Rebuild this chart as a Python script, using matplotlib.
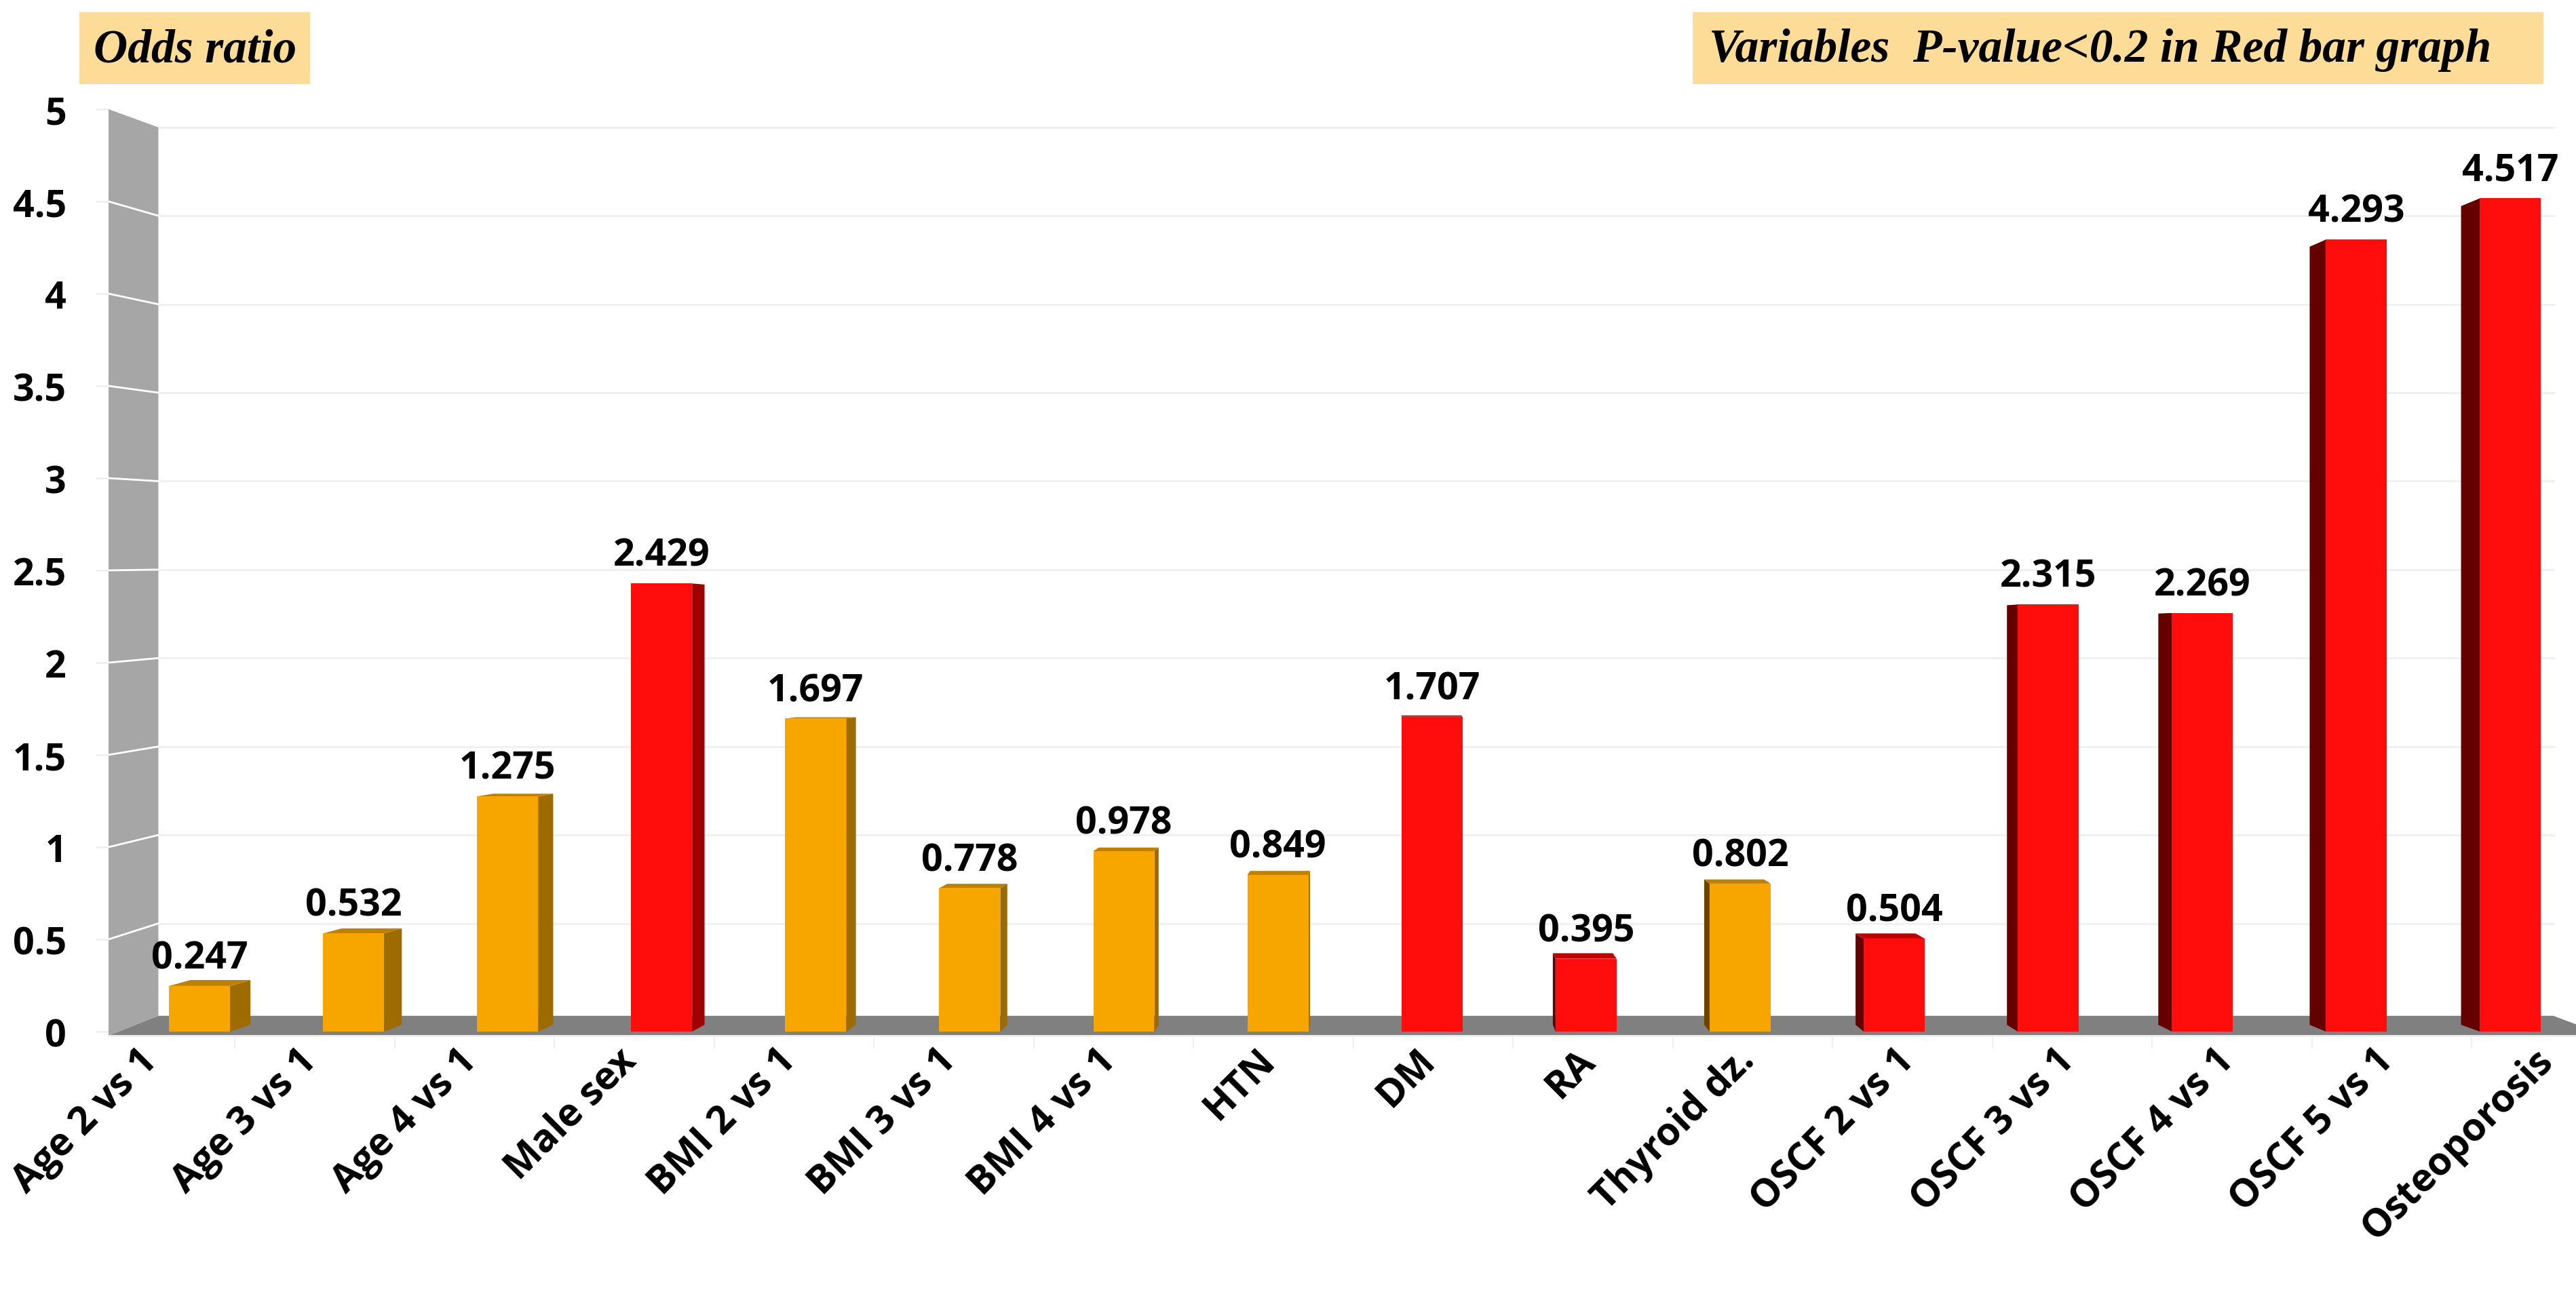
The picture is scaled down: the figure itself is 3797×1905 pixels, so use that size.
import matplotlib
matplotlib.use('Agg')
import matplotlib.pyplot as plt
import matplotlib.transforms as mtransforms
from matplotlib.patches import Polygon, Rectangle

# data
categories = ['Age 2 vs 1', 'Age 3 vs 1', 'Age 4 vs 1', 'Male sex', 'BMI 2 vs 1',
              'BMI 3 vs 1', 'BMI 4 vs 1', 'HTN', 'DM', 'RA', 'Thyroid dz.',
              'OSCF 2 vs 1', 'OSCF 3 vs 1', 'OSCF 4 vs 1', 'OSCF 5 vs 1', 'Osteoporosis']
odds = [0.247, 0.532, 1.275, 2.429, 1.697, 0.778, 0.978, 0.849, 1.707, 0.395,
        0.802, 0.504, 2.315, 2.269, 4.293, 4.517]
p_below_02 = [False, False, False, True, False, False, False, False, True, True,
              False, True, True, True, True, True]
yticks = [0, 0.5, 1, 1.5, 2, 2.5, 3, 3.5, 4, 4.5, 5]
yticklabels = ['0', '0.5', '1', '1.5', '2', '2.5', '3', '3.5', '4', '4.5', '5']

W, H = 3798, 1906
sans = 'Open Sans'
serif = 'Liberation Serif'

# fake 3D look (excel style): vanishing point + depth factor
wall_vp, wall_k = (7.3, 2.6), 0.041
bar_vp, bar_k = (7.8, 2.1), 0.0175
label_spread = 1.037   # category labels sit on the front edge of the floor
half_w = 0.198
x_left, x_right = -0.59, 15.43
y_floor = -0.022

orange = {'front': '#F7A600', 'right': '#9E6B00', 'left': '#6B4500', 'top': '#BF8000'}
red = {'front': '#FF0D0D', 'right': '#A00000', 'left': '#640000', 'top': '#C00000'}


def back(x, y, vp, k):
    return (x + k * (vp[0] - x), y + k * (vp[1] - y))


def front_x(x):
    return bar_vp[0] + (x - bar_vp[0]) * label_spread


fig = plt.figure(figsize=(W / 100, H / 100), dpi=100)
ax = fig.add_axes([160 / W, (H - 1528) / H, (W - 160) / W, 1366 / H])
ax.set_xlim(x_left, x_right)
ax.set_ylim(y_floor, 5.0)
ax.set_facecolor('none')
for s in ax.spines.values():
    s.set_visible(False)
ax.spines['bottom'].set_visible(True)
ax.spines['bottom'].set_color('#F0F0F0')
ax.spines['bottom'].set_linewidth(2)

# back plane gridlines + lines on the side wall
floor_end = 15.62
for g in yticks[1:]:
    bx0, by = back(x_left, g, wall_vp, wall_k)
    bx1, _ = back(floor_end, g, wall_vp, wall_k)
    ax.plot([bx0, bx1], [by, by], color='#F0F0F0', lw=2.2, zorder=1)

wall = [(x_left, y_floor), (x_left, 5.0), back(x_left, 5.0, wall_vp, wall_k),
        back(x_left, y_floor, wall_vp, wall_k)]
ax.add_patch(Polygon(wall, closed=True, facecolor='#A6A6A6', edgecolor='none', zorder=2))
for g in yticks[1:-1]:
    bx, by = back(x_left, g, wall_vp, wall_k)
    ax.plot([x_left, bx], [g, by], color='white', lw=2, zorder=3)

floor = [(x_left, y_floor), (floor_end, y_floor), back(floor_end, y_floor, wall_vp, wall_k),
         back(x_left, y_floor, wall_vp, wall_k)]
ax.add_patch(Polygon(floor, closed=True, facecolor='#808080', edgecolor='none', zorder=2))

# bars
for i, (v, sig) in enumerate(zip(odds, p_below_02)):
    c = red if sig else orange
    fl, fr = (i - half_w, 0), (i + half_w, 0)
    tl, tr = (i - half_w, v), (i + half_w, v)
    if fr[0] < bar_vp[0]:
        side = [fr, tr, back(*tr, bar_vp, bar_k), back(*fr, bar_vp, bar_k)]
        ax.add_patch(Polygon(side, facecolor=c['right'], edgecolor='none', zorder=4))
    if fl[0] > bar_vp[0]:
        side = [fl, tl, back(*tl, bar_vp, bar_k), back(*fl, bar_vp, bar_k)]
        ax.add_patch(Polygon(side, facecolor=c['left'], edgecolor='none', zorder=4))
    if v < bar_vp[1]:
        top = [tl, tr, back(*tr, bar_vp, bar_k), back(*tl, bar_vp, bar_k)]
        ax.add_patch(Polygon(top, facecolor=c['top'], edgecolor='none', zorder=4))
    ax.add_patch(Rectangle(fl, 2 * half_w, v, facecolor=c['front'], edgecolor='none', zorder=5))
    ax.annotate(f'{v:.3f}', xy=(i, v), xytext=(0, 19), textcoords='offset points',
                ha='center', va='baseline', fontsize=40, fontweight='bold',
                family=sans, zorder=6)

# axes ticks
ax.set_yticks(yticks)
ax.set_yticklabels(yticklabels, fontsize=40, fontweight='bold', family=sans)
ax.tick_params(axis='y', length=13.7, width=2, color='#F0F0F0', pad=31)

ax.set_xticks([front_x(i) for i in range(len(categories))])
ax.set_xticks([front_x(i - 0.5) for i in range(1, len(categories))], minor=True)
ax.set_xticklabels(categories, rotation=45, ha='right', va='center',
                   rotation_mode='anchor', fontsize=41, fontweight='bold', family=sans)
ax.tick_params(axis='x', which='major', length=0, pad=0)
ax.tick_params(axis='x', which='minor', length=14, width=1.5, color='#F0F0F0')
shift = mtransforms.ScaledTranslation(-4 / 72, -20 / 72, fig.dpi_scale_trans)
for lab in ax.get_xticklabels():
    lab.set_transform(lab.get_transform() + shift)

# title boxes
fig.add_artist(Rectangle((117 / W, 1 - 125 / H), 340 / W, 106 / H,
                         transform=fig.transFigure, facecolor='#FDDC98', edgecolor='none'))
fig.text(138 / W, 1 - 74 / H, 'Odds ratio', fontsize=50, fontweight='bold',
         style='italic', family=serif, va='center', ha='left')
fig.add_artist(Rectangle((2495 / W, 1 - 125 / H), 1254 / W, 106 / H,
                         transform=fig.transFigure, facecolor='#FDDC98', edgecolor='none'))
fig.text(2519 / W, 1 - 74 / H, 'Variables  P-value<0.2 in Red bar graph', fontsize=50,
         fontweight='bold', style='italic', family=serif, va='center', ha='left')

fig.savefig('out.png', dpi=100, facecolor='white')
